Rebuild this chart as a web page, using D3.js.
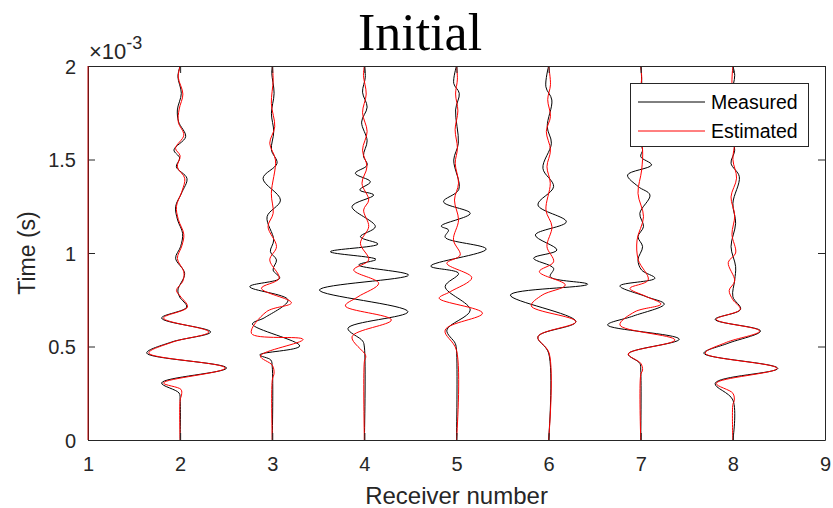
<!DOCTYPE html>
<html><head><meta charset="utf-8">
<script src="https://cdn.jsdelivr.net/npm/d3@7"></script>
<style>body{margin:0;background:#fff}svg{display:block}</style>
</head><body>
<svg id="chart" width="833" height="508"></svg>
<script>
// Each trace: [time (x1e-3 s), deflection (in receiver-spacing units)]
const receivers = [2, 3, 4, 5, 6, 7, 8];
const xTicks = [1, 2, 3, 4, 5, 6, 7, 8, 9];
const yTicks = [0, 0.5, 1, 1.5, 2];
const yTickLabels = ["0", "0.5", "1", "1.5", "2"];

const measured2 = [[0,0],[0.214,0],[0.251,-0.011],[0.305,-0.201],[0.385,0.504],[0.465,-0.363],[0.524,-0.092],[0.578,0.331],[0.652,-0.201],[0.711,0.071],[0.765,-0.005],[0.802,-0.024],[0.891,0.049],[0.972,-0.049],[1.034,0.005],[1.105,0.027],[1.176,-0.027],[1.248,-0.049],[1.321,0.016],[1.399,0.074],[1.461,-0.041],[1.508,-0.005],[1.551,-0.067],[1.622,0.060],[1.701,-0.016],[1.765,-0.030],[1.854,0.013],[1.943,-0.024],[2,0]];
const estimated2 = [[0,0],[0.214,0],[0.24,0.015],[0.27,0.01],[0.305,-0.18],[0.385,0.49],[0.465,-0.34],[0.524,-0.08],[0.578,0.31],[0.652,-0.18],[0.711,0.08],[0.77,0.0],[0.80,-0.04],[0.85,0.03],[0.9,0.04],[0.97,-0.03],[1.04,0.02],[1.1,0.04],[1.18,-0.02],[1.25,-0.04],[1.33,0.02],[1.40,0.05],[1.46,-0.03],[1.52,0.0],[1.56,-0.05],[1.63,0.04],[1.70,-0.02],[1.77,-0.01],[1.85,0.03],[1.94,-0.02],[2,0]];

const measured3 = [[0,0],[0.39,0],[0.428,-0.016],[0.455,-0.136],[0.503,0.298],[0.62,-0.215],[0.655,-0.08],[0.749,0.171],[0.82,-0.244],[0.865,0.081],[0.909,0.009],[0.963,0.046],[1.007,-0.02],[1.07,0.016],[1.194,-0.056],[1.283,0.089],[1.399,-0.1],[1.48,0.052],[1.551,-0.009],[1.649,0.016],[1.747,-0.009],[1.854,0.02],[1.961,-0.005],[2,0]];
const estimated3 = [[0,0],[0.32,0],[0.358,0.02],[0.40,0.0],[0.449,-0.128],[0.538,0.334],[0.57,-0.226],[0.686,-0.063],[0.734,0.208],[0.811,-0.117],[0.865,0.074],[0.963,-0.027],[1.034,0.046],[1.141,-0.046],[1.212,0.01],[1.319,-0.01],[1.497,0.035],[1.587,-0.027],[1.675,0.027],[1.8,-0.01],[1.925,0.01],[2,0]];

const measured4 = [[0,0],[0.497,0],[0.529,-0.018],[0.597,-0.178],[0.686,0.473],[0.802,-0.488],[0.882,0.48],[0.936,-0.062],[0.966,0.126],[1.007,-0.369],[1.048,0.148],[1.087,-0.043],[1.141,0.119],[1.248,-0.134],[1.31,0.101],[1.337,-0.05],[1.381,0.065],[1.426,-0.098],[1.47,0.03],[1.52,-0.01],[1.6,0.03],[1.7,-0.03],[1.78,0.03],[1.86,-0.02],[1.94,0.01],[2,0]];
const estimated4 = [[0,0],[0.42,0],[0.45,0.015],[0.552,-0.134],[0.642,0.293],[0.717,-0.206],[0.766,-0.069],[0.838,0.155],[0.909,-0.116],[0.963,0.047],[1.052,-0.043],[1.141,0.047],[1.23,-0.008],[1.283,0.047],[1.373,-0.026],[1.461,0.028],[1.55,-0.02],[1.65,0.03],[1.75,-0.02],[1.85,0.02],[1.95,-0.01],[2,0]];

const measured5 = [[0,0],[0.481,0],[0.517,-0.014],[0.588,-0.105],[0.695,0.149],[0.82,-0.123],[0.891,0.022],[0.93,-0.279],[1.021,0.322],[1.084,-0.123],[1.123,-0.087],[1.144,-0.166],[1.212,0.149],[1.274,-0.141],[1.34,0.025],[1.497,-0.03],[1.587,0.02],[1.765,-0.01],[1.854,0.03],[1.907,-0.03],[2,0]];
const estimated5 = [[0,0],[0.48,0],[0.588,-0.123],[0.678,0.282],[0.758,-0.188],[0.793,-0.068],[0.868,0.166],[0.945,-0.105],[0.989,0.04],[1.07,-0.033],[1.176,0.022],[1.283,-0.022],[1.373,0.022],[1.48,-0.014],[1.56,0.01],[1.66,-0.015],[1.76,0.015],[1.85,-0.01],[1.93,0.01],[2,0]];

const measured6 = [[0,0],[0.465,0],[0.552,-0.116],[0.633,0.296],[0.775,-0.415],[0.833,0.423],[0.873,0.018],[0.918,0.054],[0.972,-0.163],[1.016,0.09],[1.096,-0.144],[1.167,0.192],[1.257,-0.116],[1.355,0.054],[1.453,-0.062],[1.587,0.03],[1.675,-0.015],[1.818,0.035],[1.889,-0.03],[2,0]];
const estimated6 = [[0,0],[0.465,0.005],[0.552,-0.116],[0.633,0.296],[0.717,-0.188],[0.775,-0.07],[0.829,0.181],[0.9,-0.101],[0.953,0.054],[1.034,-0.018],[1.141,0.036],[1.23,-0.029],[1.373,0.018],[1.461,-0.018],[1.55,0.02],[1.65,-0.025],[1.73,0.02],[1.82,-0.01],[1.9,0.02],[2,0]];

const measured7 = [[0,0],[0.374,0],[0.41,-0.01],[0.46,-0.136],[0.539,0.418],[0.615,-0.36],[0.663,-0.081],[0.727,0.255],[0.766,0.063],[0.824,-0.226],[0.865,0.154],[0.909,0.009],[0.963,-0.03],[1.034,0.02],[1.087,-0.03],[1.141,0.03],[1.212,-0.01],[1.31,0.1],[1.355,-0.027],[1.417,-0.143],[1.471,0.117],[1.515,0.0],[1.551,0.02],[1.6,-0.01],[1.7,0.02],[1.8,-0.02],[1.9,0.01],[2,0]];
const estimated7 = [[0,0],[0.35,0],[0.374,0.02],[0.41,0.0],[0.46,-0.136],[0.535,0.371],[0.615,-0.226],[0.686,-0.063],[0.727,0.219],[0.77,0.046],[0.811,-0.117],[0.856,0.081],[0.963,-0.027],[1.07,-0.04],[1.194,0.03],[1.319,-0.03],[1.444,0.01],[1.551,0.02],[1.65,-0.01],[1.75,0.02],[1.85,-0.015],[1.93,0.01],[2,0]];

const measured8 = [[0,0],[0.214,0],[0.303,-0.192],[0.383,0.488],[0.464,-0.315],[0.517,-0.054],[0.583,0.3],[0.645,-0.192],[0.699,0.084],[0.766,0.0],[0.856,0.02],[0.927,0.03],[1.034,-0.02],[1.159,0.03],[1.266,0.0],[1.408,0.07],[1.48,-0.02],[1.55,0.02],[1.65,-0.02],[1.75,0.02],[1.85,-0.01],[1.95,0.02],[2,0]];
const estimated8 = [[0,0],[0.19,0],[0.21,0.015],[0.25,0],[0.303,-0.18],[0.383,0.48],[0.464,-0.30],[0.522,-0.07],[0.583,0.29],[0.645,-0.18],[0.699,0.08],[0.75,0.0],[0.8,-0.04],[0.85,0.02],[0.95,-0.05],[1.0,0.03],[1.1,-0.01],[1.2,0.02],[1.3,-0.02],[1.4,0.04],[1.5,0.0],[1.6,0.02],[1.7,-0.02],[1.8,0.02],[1.9,-0.01],[2,0]];

const measured = [measured2, measured3, measured4, measured5, measured6, measured7, measured8];
const estimated = [estimated2, estimated3, estimated4, estimated5, estimated6, estimated7, estimated8];
const zeroTrace = [[0,0],[2,0]];

const svg = d3.select("#chart");
const mLeft = 88, mRight = 825, mTop = 66, mBottom = 440;
const x = d3.scaleLinear().domain([1, 9]).range([mLeft, mRight]);
const y = d3.scaleLinear().domain([0, 2]).range([mBottom, mTop]);
const axisColor = "#262626";
const font = "'Liberation Sans', Arial, Helvetica, sans-serif";

svg.append("defs").append("clipPath").attr("id","clip")
  .append("rect").attr("x", mLeft).attr("y", mTop).attr("width", mRight-mLeft).attr("height", mBottom-mTop);

// title
svg.append("text").attr("x", 420).attr("y", 50).attr("text-anchor","middle")
  .attr("font-family","'Liberation Serif', 'Times New Roman', serif").attr("font-size", 52)
  .attr("fill","#000").text("Initial");

const plot = svg.append("g").attr("clip-path","url(#clip)");
function lineFor(rec) {
  return d3.line().x(d => x(rec + d[1])).y(d => y(d[0])).curve(d3.curveCatmullRom.alpha(0.5));
}
receivers.forEach((r, i) => {
  plot.append("path").attr("d", lineFor(r)(measured[i])).attr("fill","none")
    .attr("stroke","#000").attr("stroke-width",1);
});
receivers.forEach((r, i) => {
  plot.append("path").attr("d", lineFor(r)(estimated[i])).attr("fill","none")
    .attr("stroke","#ff0000").attr("stroke-width",1);
});

// axes
const gx = svg.append("g").attr("transform",`translate(0,${mBottom})`)
  .call(d3.axisBottom(x).tickValues(xTicks).tickFormat(d3.format("d")).tickSizeInner(-7).tickSizeOuter(0).tickPadding(17));
const gxt = svg.append("g").attr("transform",`translate(0,${mTop})`)
  .call(d3.axisTop(x).tickValues(xTicks).tickFormat("").tickSizeInner(-7).tickSizeOuter(0));
const gy = svg.append("g").attr("transform",`translate(${mLeft},0)`)
  .call(d3.axisLeft(y).tickValues(yTicks).tickFormat((d,i) => yTickLabels[i]).tickSizeInner(-7).tickSizeOuter(0).tickPadding(12));
const gyr = svg.append("g").attr("transform",`translate(${mRight},0)`)
  .call(d3.axisRight(y).tickValues(yTicks).tickFormat("").tickSizeInner(-7).tickSizeOuter(0));
[gx, gxt, gy, gyr].forEach(g => {
  g.selectAll("path.domain").attr("stroke", axisColor).attr("stroke-width", 1);
  g.selectAll("line").attr("stroke", axisColor).attr("stroke-width", 1);
  g.selectAll("text").attr("fill", axisColor).attr("font-family", font).attr("font-size", 20);
});
gx.selectAll("text").attr("dy","0.71em");
gy.selectAll("text").attr("dy","0.35em");

// zero trace at receiver 1 (red over left spine)
svg.append("path").attr("d", lineFor(1)(zeroTrace)).attr("fill","none")
  .attr("stroke","#c00000").attr("stroke-width",1);

// exponent
const ex = svg.append("text").attr("x", mLeft + 1).attr("y", 59).attr("font-family", font)
  .attr("font-size", 22).attr("fill", axisColor);
ex.append("tspan").text("\u00d710");
ex.append("tspan").attr("dy", -10).attr("font-size", 18).text("-3");

// axis labels
svg.append("text").attr("x", (mLeft+mRight)/2).attr("y", 504).attr("text-anchor","middle")
  .attr("font-family", font).attr("font-size", 24).attr("fill", axisColor).text("Receiver number");
svg.append("text").attr("transform",`translate(35,${(mTop+mBottom)/2}) rotate(-90)`).attr("text-anchor","middle")
  .attr("font-family", font).attr("font-size", 23).attr("fill", axisColor).text("Time (s)");

// legend
const lg = svg.append("g");
lg.append("rect").attr("x", 630.5).attr("y", 83.5).attr("width", 178).attr("height", 63)
  .attr("fill","#fff").attr("stroke", axisColor).attr("stroke-width", 1);
const legendItems = [["Measured","#000"],["Estimated","#ff0000"]];
legendItems.forEach((d, i) => {
  const yy = 102 + i*29;
  lg.append("line").attr("x1", 638).attr("x2", 705).attr("y1", yy).attr("y2", yy)
    .attr("stroke", d[1]).attr("stroke-width", 1);
  lg.append("text").attr("x", 711).attr("y", yy).attr("dy","0.35em")
    .attr("font-family", font).attr("font-size", 19.5).attr("fill","#000").text(d[0]);
});
</script>
</body></html>
